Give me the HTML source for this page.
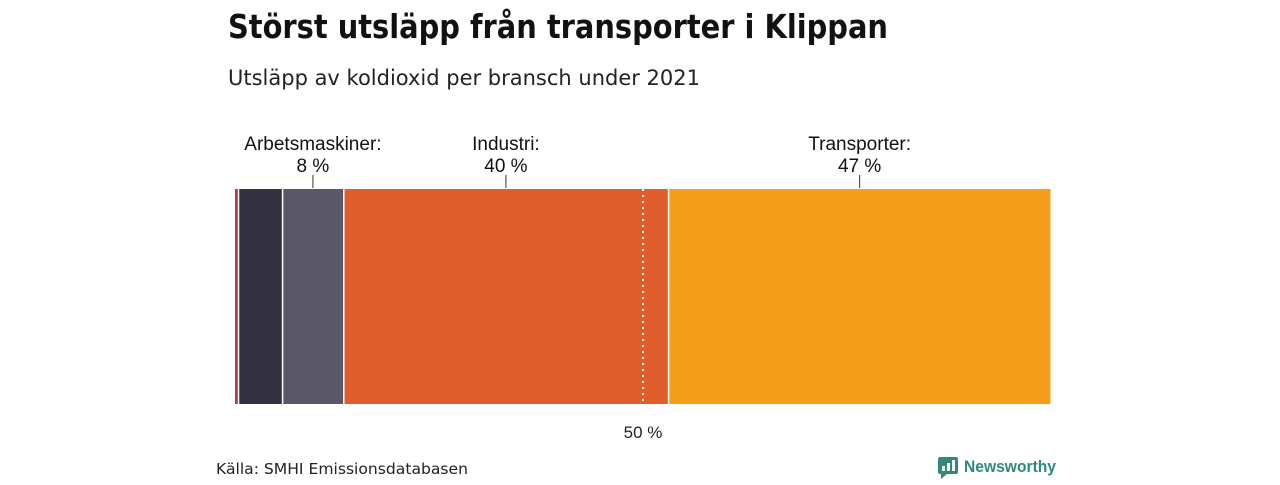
<!DOCTYPE html>
<html><head><meta charset="utf-8"><style>
body{margin:0;background:#fff;width:1280px;height:480px;overflow:hidden;font-family:"Liberation Sans",sans-serif}
</style></head><body>
<svg width="1280" height="480">
<text x="228" y="38" font-size="33" font-weight="bold" fill="#111" font-family="DejaVu Sans" textLength="660" lengthAdjust="spacingAndGlyphs">Störst utsläpp från transporter i Klippan</text>
<text x="228" y="85" font-size="21" fill="#222" font-family="DejaVu Sans" textLength="472" lengthAdjust="spacingAndGlyphs">Utsläpp av koldioxid per bransch under 2021</text>
<g id="bars"></g>
<g id="labels"></g>
<text x="216" y="474" font-size="15" fill="#222" font-family="DejaVu Sans" textLength="252" lengthAdjust="spacingAndGlyphs">Källa: SMHI Emissionsdatabasen</text>
<g>
<rect x="938" y="457" width="20" height="17" rx="2" fill="#2f8a7c"/>
<polygon points="941,474 947,474 941,479" fill="#2f8a7c"/>
<rect x="942" y="466" width="3" height="5" fill="#fff"/><rect x="947" y="463" width="3" height="8" fill="#fff"/><rect x="952" y="460" width="3" height="11" fill="#fff"/>
<text x="964" y="472" font-size="17" font-weight="bold" fill="#2f8a7c" textLength="92" lengthAdjust="spacingAndGlyphs">Newsworthy</text>
</g>
</svg>
<script>
const categories=["Övrigt","Energi","Arbetsmaskiner","Industri","Transporter"];
const values=[0.4,5.4,7.5,39.8,46.9];
const colors=["#b33a3a","#33313f","#5a5866","#e05e2e","#f59e1b"];
const labelShown=[false,false,true,true,true];
const refLine=50;
const X0=235,W=816,Y0=189,H=215;
const x=v=>X0+v/100*W;
const NS="http://www.w3.org/2000/svg";
const bars=document.getElementById('bars'),labels=document.getElementById('labels');
let cum=0;
values.forEach((v,i)=>{
  const r=document.createElementNS(NS,'rect');
  const a=x(cum),b=x(cum+v);
  r.setAttribute('x',a+(i?1:0));r.setAttribute('y',Y0);
  r.setAttribute('width',Math.max(1,b-a-(i?1.5:0.5)));r.setAttribute('height',H);
  r.setAttribute('fill',colors[i]);
  
  
  bars.appendChild(r);
  if(labelShown[i]){
    const c=(a+b)/2;
    const l=document.createElementNS(NS,'line');
    l.setAttribute('x1',c);l.setAttribute('x2',c);l.setAttribute('y1',175);l.setAttribute('y2',188);
    l.setAttribute('stroke','#333');
    
    
    labels.appendChild(l);
    [[categories[i]+':',150],[Math.round(v)+' %',172]].forEach(([t,y])=>{
      const tx=document.createElementNS(NS,'text');
      tx.setAttribute('x',c);tx.setAttribute('y',y);tx.setAttribute('text-anchor','middle');
      tx.setAttribute('font-size','19');tx.setAttribute('fill','#111');
      tx.textContent=t;
      
      
      labels.appendChild(tx);
    });
  }
  cum+=v;
});
const rl=document.createElementNS(NS,'line');
rl.setAttribute('x1',x(refLine));rl.setAttribute('x2',x(refLine));rl.setAttribute('y1',Y0);rl.setAttribute('y2',Y0+H);
rl.setAttribute('stroke','#fff');rl.setAttribute('stroke-width','2');rl.setAttribute('stroke-dasharray','2 4');


labels.appendChild(rl);
const rt=document.createElementNS(NS,'text');
rt.setAttribute('x',x(refLine));rt.setAttribute('y',438);rt.setAttribute('text-anchor','middle');
rt.setAttribute('font-size','17');rt.setAttribute('fill','#222');rt.textContent=refLine+' %';


labels.appendChild(rt);
</script>
</body></html>
